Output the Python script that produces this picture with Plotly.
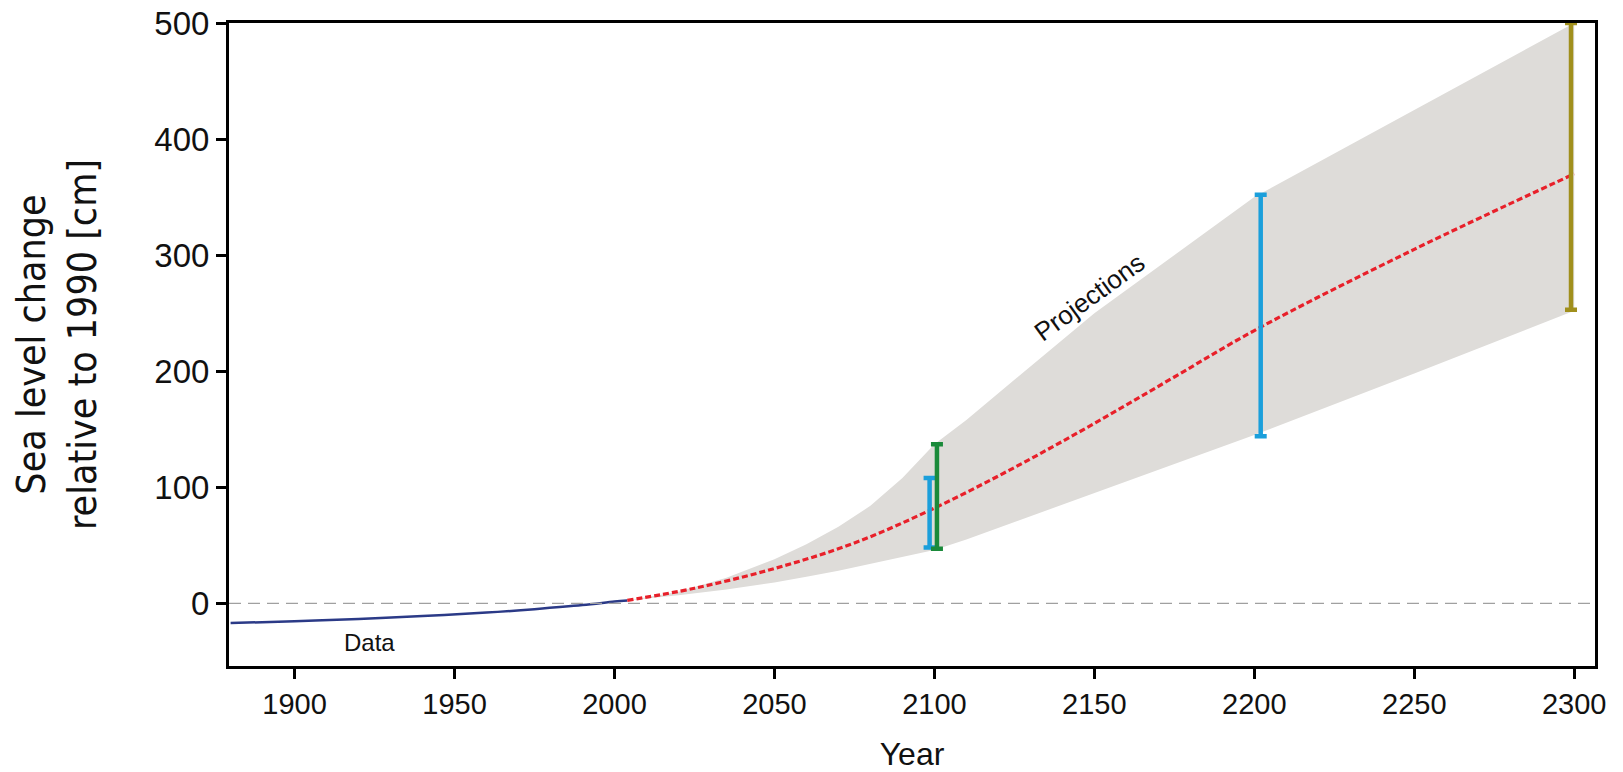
import plotly.graph_objects as go

# Observed data (blue line)
data_years = [1880, 1900, 1920, 1940, 1960, 1975, 1990, 2000, 2004]
data_values = [-17, -15.5, -13.5, -11, -8, -5, -1.5, 1.5, 2.5]

# Projection central estimate (red dotted)
proj_years = [2004, 2025, 2050, 2075, 2100, 2125, 2150, 2175, 2200, 2250, 2300]
proj_mid = [2.5, 13, 30, 52, 82, 117, 155, 195, 235, 305, 370]

# Projection range (grey band)
band_years = [2004, 2020, 2035, 2050, 2060, 2070, 2080, 2090, 2100, 2110, 2150, 2200, 2250, 2300]
band_upper = [2.5, 10, 22, 38, 51, 66, 84, 108, 137, 158, 250, 350, 425, 500]
band_lower = [2.5, 7, 12, 18, 23, 28, 34, 40, 46, 55, 95, 145, 198, 252]

# Range bars
bar_years = [2098.5, 2100.8, 2202, 2299]
bar_low = [48, 47, 144, 253]
bar_high = [108, 137, 352, 500]
bar_colors = ["#1b9fdb", "#1a8a3a", "#1b9fdb", "#a08f1c"]

x_ticks = [1900, 1950, 2000, 2050, 2100, 2150, 2200, 2250, 2300]
y_ticks = [0, 100, 200, 300, 400, 500]

COND = "DejaVu Sans Condensed, Liberation Sans, Arial"

fig = go.Figure()

# grey band
fig.add_trace(go.Scatter(x=band_years + band_years[::-1],
                         y=band_upper + band_lower[::-1],
                         fill="toself", fillcolor="#dedcd9",
                         line=dict(width=0), mode="lines",
                         hoverinfo="skip", showlegend=False))

# zero dashed line
fig.add_hline(y=0, line=dict(color="#a0a0a0", width=1.2, dash="12px,7px"))

# data line
fig.add_trace(go.Scatter(x=data_years, y=data_values, mode="lines",
                         line=dict(color="#2b3a87", width=2.5, shape="spline"),
                         showlegend=False))

# projection mid line
fig.add_trace(go.Scatter(x=proj_years, y=proj_mid, mode="lines",
                         line=dict(color="#e8202a", width=3.2, dash="6px,3px", shape="spline"),
                         showlegend=False))

# range bars
for xv, lo, hi, c in zip(bar_years, bar_low, bar_high, bar_colors):
    mid = (lo + hi) / 2
    fig.add_trace(go.Scatter(x=[xv], y=[mid], mode="markers",
                             marker=dict(size=0.1, color=c, opacity=0),
                             error_y=dict(type="data", symmetric=False,
                                          array=[hi - mid], arrayminus=[mid - lo],
                                          color=c, thickness=4.5, width=6),
                             showlegend=False))

fig.add_annotation(x=1923.5, y=-34, text="Data", showarrow=False,
                   font=dict(family="Liberation Sans, Arial", size=24, color="#111"))
fig.add_annotation(x=2148.5, y=264, text="Projections", showarrow=False, textangle=-36,
                   font=dict(family="Liberation Sans, Arial", size=26, color="#111"))

fig.update_layout(
    width=1623, height=772,
    margin=dict(l=229, r=28, t=23, b=106),
    plot_bgcolor="white", paper_bgcolor="white",
    showlegend=False,
    xaxis=dict(range=[1879.5, 2306.5], tickvals=x_ticks, showgrid=False, zeroline=False,
               automargin=False, ticklabeloverflow="allow",
               showline=True, mirror=True, linecolor="black", linewidth=3,
               ticks="outside", ticklen=10, tickwidth=3, tickcolor="black",
               tickfont=dict(family="Liberation Sans, Arial", size=29, color="#111"),
               title=dict(text="Year", standoff=26,
                          font=dict(family="Liberation Sans, Arial", size=32, color="#111"))),
    yaxis=dict(range=[-54, 500], tickvals=y_ticks, showgrid=False, zeroline=False,
               automargin=False, ticklabeloverflow="allow",
               showline=True, mirror=True, linecolor="black", linewidth=3,
               ticks="outside", ticklen=10, tickwidth=3, tickcolor="black",
               tickfont=dict(family="Liberation Sans, Arial", size=33, color="#111"),
               title=dict(text="Sea level change<br>relative to 1990 [cm]", standoff=46,
                          font=dict(family=COND, size=39, color="#111"))),
)

fig.write_html("out.html", config={"displayModeBar": False},
               post_script="document.body.style.margin='0';document.body.style.overflow='hidden';")
